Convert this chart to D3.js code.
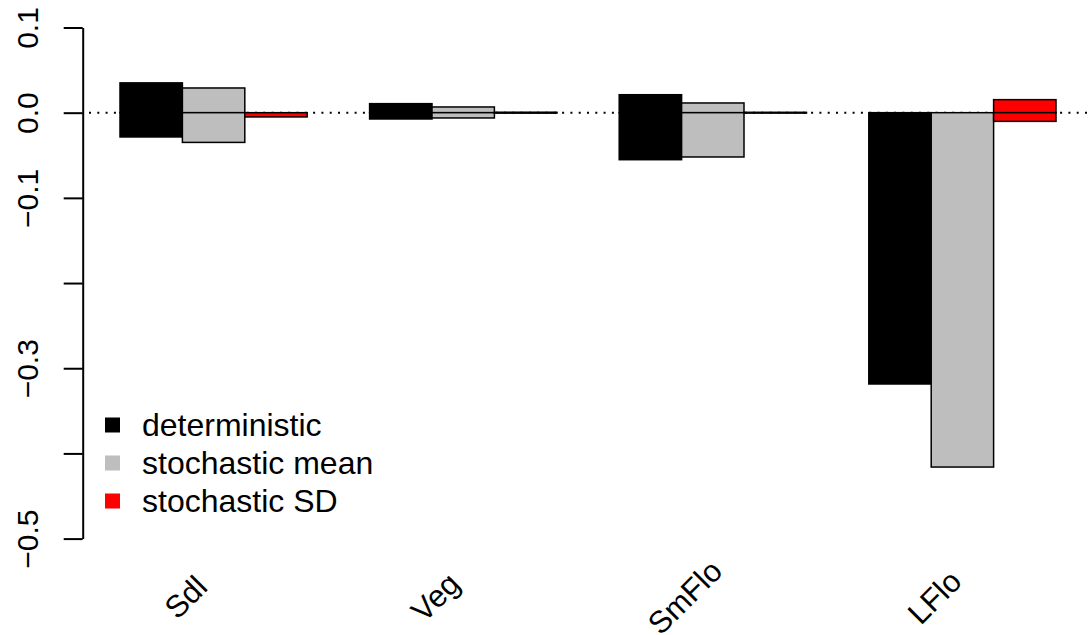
<!DOCTYPE html>
<html>
<head>
<meta charset="utf-8">
<script src="https://cdn.jsdelivr.net/npm/d3@7"></script>
<style>
  html, body { margin: 0; padding: 0; background: #fff; }
  svg { display: block; font-family: "Liberation Sans", Arial, Helvetica, sans-serif; }
</style>
</head>
<body>
<svg id="chart" width="1089" height="635"></svg>
<script>
// ---- data ----
const categories = ["Sdl", "Veg", "SmFlo", "LFlo"];
const seriesNames = ["deterministic", "stochastic mean", "stochastic SD"];
const seriesColors = ["#000000", "#BEBEBE", "#FF0000"];
// positive and negative parts of each bar (stacked around zero)
const deterministicPos = [0.0350, 0.0106, 0.0211, 0.0000];
const deterministicNeg = [-0.0285, -0.0074, -0.0552, -0.3185];
const stochMeanPos = [0.0290, 0.0067, 0.0114, 0.0000];
const stochMeanNeg = [-0.0349, -0.0062, -0.0520, -0.4160];
const stochSDPos = [0.0000, 0.0005, 0.0004, 0.0153];
const stochSDNeg = [-0.0050, -0.0005, -0.0004, -0.0102];
const yTickValues = [0.1, 0.0, -0.1, -0.2, -0.3, -0.4, -0.5];
const yTickLabels = ["0.1", "0.0", "\u22120.1", "", "\u22120.3", "", "\u22120.5"];

const posParts = [deterministicPos, stochMeanPos, stochSDPos];
const negParts = [deterministicNeg, stochMeanNeg, stochSDNeg];

// ---- layout ----
const svg = d3.select("#chart");
const axisX = 82.7;
const plotRight = 1093;

const x0 = d3.scaleBand().domain(categories).range([120, 1056]).paddingInner(0.25).paddingOuter(0);
const x1 = d3.scaleBand().domain(seriesNames).range([0, x0.bandwidth()]).padding(0);
const y = d3.scaleLinear().domain([-0.5, 0.1]).range([538.6, 27.5]);

// dotted zero line
svg.append("line")
  .attr("x1", axisX).attr("x2", plotRight)
  .attr("y1", y(0)).attr("y2", y(0))
  .attr("stroke", "#000").attr("stroke-width", 2)
  .attr("stroke-dasharray", "2,6.3")
  .attr("stroke-dashoffset", -6.3);

// bars
const barData = [];
categories.forEach((c, ci) => {
  seriesNames.forEach((s, si) => {
    barData.push({ c, s, si, lo: 0, hi: posParts[si][ci] });
    barData.push({ c, s, si, lo: negParts[si][ci], hi: 0 });
  });
});

svg.append("g").selectAll("rect")
  .data(barData)
  .join("rect")
  .attr("x", d => x0(d.c) + x1(d.s))
  .attr("width", x1.bandwidth())
  .attr("y", d => y(d.hi))
  .attr("height", d => y(d.lo) - y(d.hi))
  .attr("fill", d => seriesColors[d.si])
  .attr("stroke", "#000")
  .attr("stroke-width", 1.5);

// y axis
const yAxis = d3.axisLeft(y)
  .tickValues(yTickValues)
  .tickFormat((d, i) => yTickLabels[i])
  .tickSize(19)
  .tickSizeOuter(0);

const gy = svg.append("g")
  .attr("transform", `translate(${axisX},0)`)
  .call(yAxis);
gy.select(".domain").attr("stroke-width", 2);
gy.selectAll(".tick line").attr("stroke-width", 2);
gy.selectAll(".tick text")
  .attr("x", 0).attr("dy", 0)
  .attr("text-anchor", "middle")
  .attr("transform", "translate(-45,0) rotate(-90)")
  .attr("font-size", 30)
  .attr("font-family", "Liberation Sans, Arial, sans-serif")
  .attr("fill", "#000");

// category labels (rotated 45 degrees, centred)
svg.append("g").selectAll("text")
  .data(categories)
  .join("text")
  .attr("transform", d => `translate(${x0(d) + x0.bandwidth() / 2 - 28},597) rotate(-45)`)
  .attr("text-anchor", "middle")
  .attr("dy", "0.35em")
  .attr("font-size", 31)
  .text(d => d);

// legend
const legend = svg.append("g");
const legendY = [425, 463, 501];
seriesNames.forEach((s, i) => {
  legend.append("rect")
    .attr("x", 105).attr("y", legendY[i] - 7.5)
    .attr("width", 15).attr("height", 15)
    .attr("fill", seriesColors[i]);
  legend.append("text")
    .attr("x", 142).attr("y", legendY[i])
    .attr("dy", "0.35em")
    .attr("font-size", 32)
    .text(s);
});
</script>
</body>
</html>
